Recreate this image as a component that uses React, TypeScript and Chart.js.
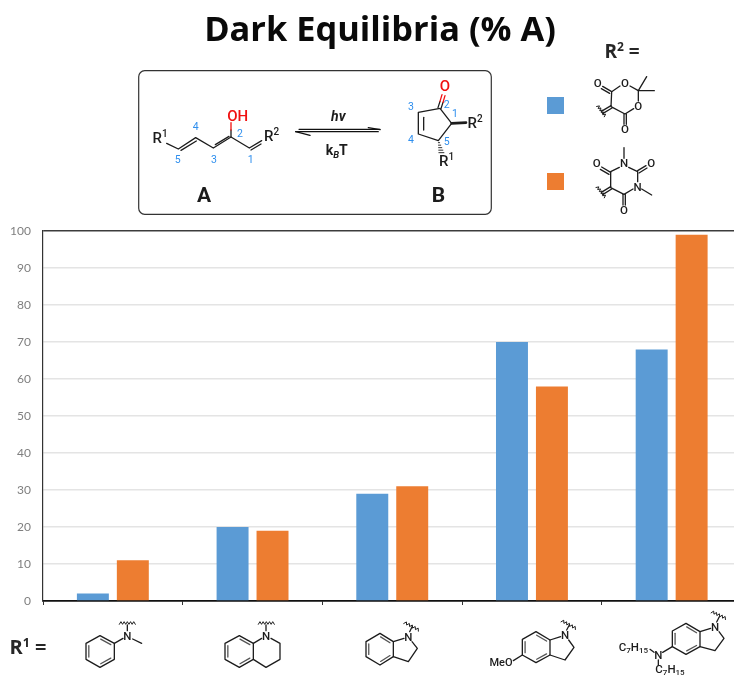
import React, { useEffect, useRef } from "react";
import { Chart, registerables } from "chart.js";

Chart.register(...registerables);

const categories = ["N-methylaniline", "Tetrahydroquinoline", "Indoline", "5-Methoxyindoline", "5-(Diheptylamino)indoline"];
const meldrumValues = [2, 20, 29, 70, 68];
const barbituricValues = [11, 19, 31, 58, 99];
const seriesNames = ["Meldrum's acid", "Dimethylbarbituric acid"];
const BLUE = "#5b9bd5";
const ORANGE = "#ed7d31";
const INK = "#1c1c1c";
const NUM = "#2f8fee";
const RED = "#f01010";
const SANS = 'Roboto, "Liberation Sans", Arial, sans-serif';
const HEAD = '"Open Sans", sans-serif';

type Ctx = CanvasRenderingContext2D;
type Run = { t: string; size: number; dy?: number; style?: string };
type Pt = [number, number];

function runs(c: Ctx, x: number, y: number, parts: Run[], color: string, family = SANS) {
  c.fillStyle = color;
  c.textAlign = "left";
  c.textBaseline = "alphabetic";
  const fontOf = (r: Run) => `${r.style ?? "500"} ${r.size}px ${family}`;
  let w = 0;
  for (const r of parts) {
    c.font = fontOf(r);
    w += c.measureText(r.t).width;
  }
  let px = x - w / 2;
  for (const r of parts) {
    c.font = fontOf(r);
    c.fillText(r.t, px, y + (r.dy ?? 0));
    px += c.measureText(r.t).width;
  }
}

// A frame maps coordinates measured on a 3x enlargement to page pixels.
function frame(c: Ctx, ox: number, oy: number) {
  const P = (p: Pt): Pt => [ox + p[0] / 3, oy + p[1] / 3];
  const line = (pts: Pt[], color = INK, width = 1.3) => {
    c.strokeStyle = color;
    c.lineWidth = width;
    c.lineCap = "round";
    c.lineJoin = "round";
    c.beginPath();
    pts.forEach((p, i) => {
      const q = P(p);
      if (i === 0) c.moveTo(q[0], q[1]);
      else c.lineTo(q[0], q[1]);
    });
    c.stroke();
  };
  const label = (p: Pt, parts: Run[], color = INK) => {
    const q = P(p);
    runs(c, q[0], q[1], parts, color);
  };
  const atom = (p: Pt, t: string, size = 11.5, color = INK) => label([p[0], p[1] + size * 1.08], [{ t, size }], color);
  const wavy = (a: Pt, b: Pt) => {
    const pts: Pt[] = [];
    const n = 10;
    const dx = b[0] - a[0];
    const dy = b[1] - a[1];
    const len = Math.hypot(dx, dy);
    for (let i = 0; i <= n; i++) {
      const s = i % 2 === 0 ? 1 : -1;
      pts.push([a[0] + (dx * i) / n - (s * 4 * dy) / len, a[1] + (dy * i) / n + (s * 4 * dx) / len]);
    }
    line(pts, INK, 1);
  };
  return { line, label, atom, wavy };
}

const benzene = (f: ReturnType<typeof frame>, h: Pt[]) => {
  f.line([...h, h[0]]);
  const cx = h.reduce((s, p) => s + p[0], 0) / 6;
  const cy = h.reduce((s, p) => s + p[1], 0) / 6;
  const inner = (p: Pt, q: Pt) => {
    const pull = (r: Pt, k: number): Pt => [r[0] + (cx - r[0]) * k, r[1] + (cy - r[1]) * k];
    const a = pull(p, 0.2);
    const b = pull(q, 0.2);
    const m: Pt = [(a[0] + b[0]) / 2, (a[1] + b[1]) / 2];
    f.line([[a[0] + (m[0] - a[0]) * 0.12, a[1] + (m[1] - a[1]) * 0.12], [b[0] + (m[0] - b[0]) * 0.12, b[1] + (m[1] - b[1]) * 0.12]], "#555");
  };
  inner(h[0], h[1]);
  inner(h[2], h[3]);
  inner(h[4], h[5]);
};

function drawHeader(c: Ctx) {
  runs(c, 380, 41, [{ t: "Dark Equilibria (% A)", size: 34.4, style: "bold" }], "#0a0a0a", HEAD);
  runs(c, 622, 58, [{ t: "R", size: 19, style: "bold" }, { t: "2", size: 12, dy: -7, style: "bold" }, { t: " =", size: 19, style: "bold" }], "#262626", HEAD);
  runs(c, 28, 654, [{ t: "R", size: 20, style: "bold" }, { t: "1", size: 12.5, dy: -7, style: "bold" }, { t: " =", size: 20, style: "bold" }], "#262626", HEAD);

  c.strokeStyle = "#333";
  c.lineWidth = 1.2;
  c.beginPath();
  c.roundRect(138.7, 70.7, 352.6, 143.6, 6);
  c.stroke();
}

function drawSchemeA(c: Ctx) {
  const f = frame(c, 130, 60);
  f.line([[110, 250], [145, 267], [197, 233], [250, 264], [303, 231], [358, 264], [395, 242]]);
  f.line([[153, 271], [199, 243]]);
  f.line([[256, 254], [297, 229]], INK);
  f.line([[363, 270], [393, 252]]);
  f.line([[303, 231], [303, 210]]);
  f.line([[303, 210], [303, 188]], RED);
  f.label([323, 184], [{ t: "OH", size: 15 }], RED);
  f.label([90, 249], [{ t: "R", size: 15 }, { t: "1", size: 10, dy: -6 }]);
  f.label([425, 242], [{ t: "R", size: 15 }, { t: "2", size: 10, dy: -6 }]);
  for (const [t, x, y] of [["4", 197, 210], ["5", 143, 310], ["3", 252, 310], ["2", 330, 232], ["1", 362, 308]] as [string, number, number][]) {
    f.label([x, y], [{ t, size: 10.5, style: "normal" }], NUM);
  }
  f.line([[507, 208], [750, 208]], "#111", 1.1);
  f.line([[715, 203], [750, 209]], "#111", 1.4);
  f.line([[497, 215], [745, 215]], "#111", 1.1);
  f.line([[497, 215], [540, 226]], "#111", 1.4);
  f.label([625, 183], [{ t: "hv", size: 14, style: "italic bold" }]);
  f.label([620, 285], [{ t: "k", size: 14, style: "bold" }, { t: "B", size: 9.5, dy: 3, style: "italic bold" }, { t: "T", size: 14, style: "bold" }]);
  f.label([222, 427], [{ t: "A", size: 21, style: "bold" }]);
}

function drawSchemeB(c: Ctx) {
  const f = frame(c, 130, 60);
  f.line([[930, 145], [865, 157], [865, 222], [925, 242], [965, 190], [930, 145]]);
  f.line([[881, 172], [881, 210]]);
  f.line([[924, 143], [930, 124]]);
  f.line([[933, 146], [939, 127]]);
  f.line([[965, 190], [1008, 188]], INK, 2.6);
  f.label([945, 93], [{ t: "O", size: 15 }], RED);
  f.line([[930, 124], [936, 104]], RED);
  f.line([[939, 127], [945, 107]], RED);
  f.label([1035, 205], [{ t: "R", size: 15 }, { t: "2", size: 10, dy: -6 }]);
  f.label([950, 318], [{ t: "R", size: 15 }, { t: "1", size: 10, dy: -6 }]);
  for (let i = 0; i < 5; i++) {
    const y = 248 + i * 7.5;
    const x = 927 + i * 1.8;
    const w = 2 + i * 1.4;
    f.line([[x - w, y], [x + w, y]], INK, 0.9);
  }
  for (const [t, x, y] of [["3", 843, 150], ["2", 950, 143], ["1", 975, 170], ["4", 843, 250], ["5", 950, 255]] as [string, number, number][]) {
    f.label([x, y], [{ t, size: 10.5, style: "normal" }], NUM);
  }
  f.label([925, 427], [{ t: "B", size: 21, style: "bold" }]);
}

function drawAcceptors(c: Ctx, colors: string[]) {
  c.fillStyle = colors[0];
  c.fillRect(547, 97, 17, 17);
  c.fillStyle = colors[1];
  c.fillRect(547, 173, 17, 17);

  const f = frame(c, 530, 35);
  // Meldrum's acid fragment
  f.line([[270, 153], [245, 170], [243, 215], [285, 237], [311, 221]]);
  f.line([[300, 153], [325, 167], [325, 198]]);
  f.line([[325, 167], [350, 125]]);
  f.line([[325, 167], [373, 167]]);
  f.line([[245, 170], [218, 154]]);
  f.line([[239, 175], [214, 161]]);
  f.line([[282, 237], [282, 268]]);
  f.line([[289, 237], [289, 268]]);
  f.line([[243, 212], [214, 229]]);
  f.line([[246, 219], [218, 236]]);
  f.wavy([203, 212], [226, 243]);
  f.atom([285, 145], "O");
  f.atom([325, 212], "O");
  f.atom([203, 145], "O");
  f.atom([285, 283], "O");
  // Dimethylbarbituric acid fragment
  f.line([[268, 397], [242, 410], [242, 458], [282, 478], [309, 462]]);
  f.line([[296, 397], [323, 410], [323, 440]]);
  f.line([[282, 370], [282, 338]]);
  f.line([[335, 462], [365, 480]]);
  f.line([[242, 412], [215, 396]]);
  f.line([[237, 418], [211, 403]]);
  f.line([[323, 407], [348, 392]]);
  f.line([[327, 414], [351, 399]]);
  f.line([[279, 478], [279, 510]]);
  f.line([[286, 478], [286, 510]]);
  f.line([[242, 455], [214, 472]]);
  f.line([[245, 462], [218, 479]]);
  f.wavy([201, 455], [226, 486]);
  f.atom([282, 385], "N");
  f.atom([323, 455], "N");
  f.atom([200, 385], "O");
  f.atom([364, 385], "O");
  f.atom([282, 525], "O");
}

function drawDonors(c: Ctx) {
  const a = frame(c, 0, 590);
  benzene(a, [[300, 137], [343, 160], [343, 208], [300, 232], [258, 208], [258, 160]]);
  a.line([[343, 160], [369, 145]]);
  a.line([[398, 147], [425, 160]]);
  a.line([[382, 122], [382, 105]]);
  a.wavy([358, 99], [406, 99]);
  a.atom([382, 137], "N");

  benzene(a, [[718, 137], [760, 160], [760, 208], [718, 232], [675, 208], [675, 160]]);
  a.line([[760, 160], [785, 145]]);
  a.line([[813, 145], [840, 160], [840, 208], [798, 232], [760, 208]]);
  a.line([[798, 122], [798, 105]]);
  a.wavy([775, 99], [823, 99]);
  a.atom([798, 137], "N");

  const b = frame(c, 340, 590);
  benzene(b, [[120, 130], [160, 155], [160, 200], [120, 225], [78, 200], [78, 155]]);
  b.line([[160, 155], [192, 145]]);
  b.line([[216, 155], [232, 175], [205, 215], [160, 200]]);
  b.line([[209, 125], [217, 109]]);
  b.wavy([193, 97], [237, 120]);
  b.atom([205, 140], "N");

  benzene(b, [[588, 125], [630, 150], [630, 195], [588, 218], [547, 195], [547, 148]]);
  b.line([[630, 150], [662, 140]]);
  b.line([[686, 150], [702, 172], [675, 210], [630, 195]]);
  b.line([[680, 120], [688, 105]]);
  b.line([[547, 195], [520, 212]]);
  b.wavy([665, 92], [708, 115]);
  b.atom([675, 135], "N");
  b.label([483, 229], [{ t: "MeO", size: 11 }]);

  benzene(b, [[1038, 100], [1080, 125], [1080, 170], [1038, 193], [997, 170], [997, 123]]);
  b.line([[1080, 125], [1112, 115]]);
  b.line([[1137, 125], [1152, 145], [1125, 182], [1080, 170]]);
  b.line([[1130, 96], [1138, 80]]);
  b.line([[997, 170], [968, 187]]);
  b.line([[930, 178], [942, 187]]);
  b.line([[955, 210], [955, 226]]);
  b.wavy([1115, 65], [1158, 85]);
  b.atom([1125, 110], "N");
  b.atom([955, 195], "N");
  b.label([880, 183], [{ t: "C", size: 11.5 }, { t: "7", size: 8, dy: 2 }, { t: "H", size: 11.5 }, { t: "15", size: 8, dy: 2 }]);
  b.label([990, 249], [{ t: "C", size: 11.5 }, { t: "7", size: 8, dy: 2 }, { t: "H", size: 11.5 }, { t: "15", size: 8, dy: 2 }]);
}

const artwork = {
  id: "artwork",
  afterDraw(chart: Chart) {
    const c = chart.ctx;
    c.save();
    drawHeader(c);
    drawSchemeA(c);
    drawSchemeB(c);
    drawAcceptors(c, chart.data.datasets.map((d) => d.backgroundColor as string));
    drawDonors(c);
    c.restore();
  },
};

export default function App() {
  const ref = useRef<HTMLCanvasElement>(null);
  useEffect(() => {
    const chart = new Chart(ref.current!, {
      type: "bar",
      data: {
        labels: categories,
        datasets: [
          { label: seriesNames[0], data: meldrumValues, backgroundColor: BLUE, barPercentage: 0.8, categoryPercentage: 0.572 },
          { label: seriesNames[1], data: barbituricValues, backgroundColor: ORANGE, barPercentage: 0.8, categoryPercentage: 0.572 },
        ],
      },
      plugins: [artwork],
      options: {
        responsive: false,
        animation: false,
        layout: { padding: { top: 231, right: 18.5, left: 0, bottom: 0 } },
        plugins: { legend: { display: false }, title: { display: false }, tooltip: { enabled: false } },
        scales: {
          x: {
            afterFit: (s: any) => { s.height = 75; },
            grid: { drawOnChartArea: false, drawTicks: true, tickLength: 4, color: "#333", lineWidth: 1, offset: true },
            border: { color: "#111", width: 1.4 },
            ticks: { display: false },
          },
          y: {
            min: 0,
            max: 100,
            afterFit: (s: any) => { s.width = 43; },
            grid: {
              drawTicks: false,
              color: (ctx: any) => (ctx.tick.value === 100 ? "#3c3c3c" : ctx.tick.value === 0 ? "#111" : "#e4e4e4"),
              lineWidth: (ctx: any) => (ctx.tick.value === 100 || ctx.tick.value === 0 ? 1.4 : 1.6),
            },
            border: { color: "#333", width: 1.2 },
            ticks: { stepSize: 10, padding: 12, color: "#7f7f7f", font: { family: "Lato", size: 12 } },
          },
        },
      },
    } as any);
    return () => chart.destroy();
  }, []);
  return (
    <div style={{ position: "absolute", left: 0, top: 0, width: 734, height: 676, overflow: "hidden", background: "#fff" }}>
      <canvas ref={ref} width={760} height={676} style={{ display: "block" }} />
    </div>
  );
}
